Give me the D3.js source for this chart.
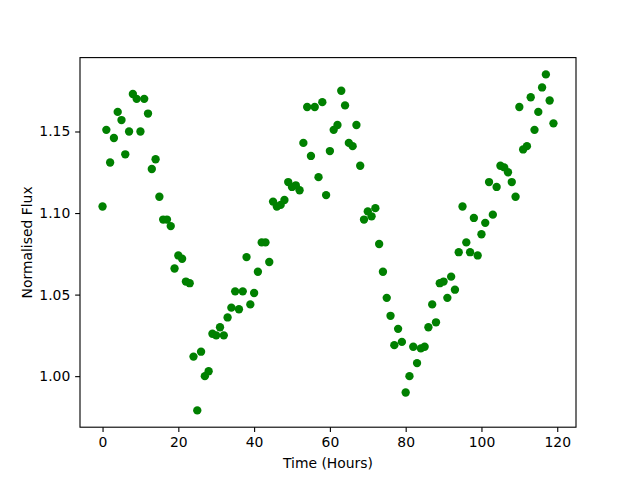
<!DOCTYPE html>
<html><head><meta charset="utf-8">
<script src="https://cdn.jsdelivr.net/npm/d3@7"></script>
<style>body{margin:0;background:#fff}</style>
</head><body>
<svg id="c" width="640" height="480"></svg>
<script>
const hours = d3.range(0, 120);
const flux = [1.104,1.151,1.131,1.146,1.162,1.157,1.136,1.150,1.173,1.170,
1.150,1.170,1.161,1.127,1.133,1.110,1.096,1.096,1.092,1.066,
1.074,1.072,1.058,1.057,1.012,0.979,1.015,1.000,1.003,1.026,
1.025,1.030,1.025,1.036,1.042,1.052,1.041,1.052,1.073,1.044,
1.051,1.064,1.082,1.082,1.070,1.107,1.104,1.105,1.108,1.119,
1.116,1.117,1.114,1.143,1.165,1.135,1.165,1.122,1.168,1.111,
1.138,1.151,1.154,1.175,1.166,1.143,1.141,1.154,1.129,1.096,
1.101,1.098,1.103,1.081,1.064,1.048,1.037,1.019,1.029,1.021,
0.990,1.000,1.018,1.008,1.017,1.018,1.030,1.044,1.033,1.057,
1.058,1.048,1.061,1.053,1.076,1.104,1.082,1.076,1.097,1.074,
1.087,1.094,1.119,1.099,1.116,1.129,1.128,1.125,1.119,1.110,
1.165,1.139,1.141,1.171,1.151,1.162,1.177,1.185,1.169,1.155];
const xTicks = [0,20,40,60,80,100,120];
const yTicks = [1.00,1.05,1.10,1.15];

const L=80,R=576,T=57.6,B=427.2;
const svg=d3.select('#c');
const xmin=d3.min(hours), xmax=d3.max(hours), xp=(xmax-xmin)*0.05;
const ymin=d3.min(flux), ymax=d3.max(flux), yp=(ymax-ymin)*0.05;
const x=d3.scaleLinear().domain([xmin-xp,xmax+xp]).range([L,R]);
const y=d3.scaleLinear().domain([ymin-yp,ymax+yp]).range([B,T]);
const font="DejaVu Sans";

const gx=svg.append('g').attr('transform',`translate(0,${B})`)
  .call(d3.axisBottom(x).tickValues(xTicks).tickFormat(d3.format('d')).tickSizeInner(4.86).tickSizeOuter(0).tickPadding(4.86));
const gy=svg.append('g').attr('transform',`translate(${L},0)`)
  .call(d3.axisLeft(y).tickValues(yTicks).tickFormat(d3.format('.2f')).tickSizeInner(4.86).tickSizeOuter(0).tickPadding(4.86));
[gx,gy].forEach(g=>{
  g.select('.domain').remove();
  g.selectAll('line').attr('stroke','#000').attr('stroke-width',1.11);
  g.selectAll('text').attr('font-family',font).attr('font-size','13.9px').attr('fill','#000');
});

svg.append('g').selectAll('circle').data(hours).join('circle')
  .attr('cx',(d)=>x(d)).attr('cy',(d,i)=>y(flux[i])).attr('r',4.17).attr('fill','#008000');

svg.append('rect').attr('x',L).attr('y',T).attr('width',R-L).attr('height',B-T)
  .attr('fill','none').attr('stroke','#000').attr('stroke-width',1.11);

svg.append('text').attr('x',(L+R)/2).attr('y',468).attr('text-anchor','middle')
  .attr('font-family',font).attr('font-size','13.9px').text('Time (Hours)');
svg.append('text').attr('transform',`translate(32,${(T+B)/2}) rotate(-90)`).attr('text-anchor','middle')
  .attr('font-family',font).attr('font-size','13.9px').text('Normalised Flux');
</script>
</body></html>
